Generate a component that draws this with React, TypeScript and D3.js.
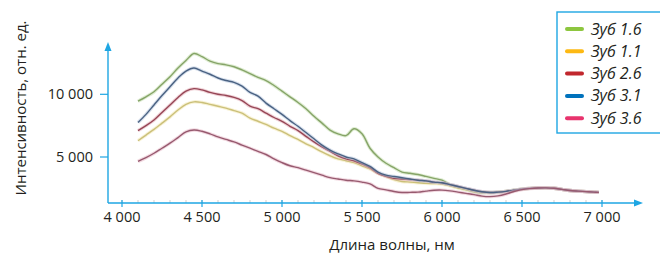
import React from 'react';
import * as d3 from 'd3';

// wavelength grid, nm
const waves = [
  4100, 4150, 4200, 4250, 4300, 4350, 4400, 4450, 4500, 4550,
  4600, 4650, 4700, 4750, 4800, 4850, 4900, 4950, 5000, 5050,
  5100, 5150, 5200, 5250, 5300, 5350, 5400, 5450, 5500, 5550,
  5600, 5650, 5700, 5750, 5800, 5850, 5900, 5950, 6000, 6050,
  6100, 6150, 6200, 6250, 6300, 6350, 6400, 6450, 6500, 6550,
  6600, 6650, 6700, 6750, 6800, 6850, 6900, 6950, 6980,
];

const tooth16 = [
  9450, 9800, 10200, 10800, 11400, 12100, 12700, 13250, 13000, 12650,
  12450, 12350, 12200, 11950, 11650, 11350, 11100, 10700, 10250, 9800,
  9350, 8850, 8250, 7700, 7150, 6850, 6700, 7250, 6850, 5700,
  5000, 4500, 4150, 3800, 3700, 3600, 3450, 3300, 3150, 2800,
  2550, 2400, 2230, 2150, 2170, 2200, 2260, 2350, 2440, 2500,
  2530, 2540, 2510, 2420, 2330, 2280, 2240, 2200, 2180,
];
const tooth11 = [
  6300, 6750, 7200, 7700, 8200, 8750, 9200, 9400, 9350, 9200,
  9050, 8900, 8700, 8500, 8100, 7850, 7600, 7300, 7050, 6700,
  6400, 6050, 5750, 5400, 5100, 4850, 4700, 4550, 4300, 4050,
  3700, 3450, 3200, 3050, 3000, 2950, 2900, 2880, 2850, 2700,
  2550, 2400, 2280, 2200, 2150, 2200, 2260, 2350, 2440, 2500,
  2530, 2540, 2510, 2420, 2330, 2280, 2240, 2200, 2180,
];
const tooth26 = [
  7100, 7500, 7950, 8550, 9150, 9750, 10250, 10450, 10350, 10150,
  10000, 9900, 9750, 9500, 9050, 8850, 8500, 8150, 7850, 7450,
  7100, 6650, 6200, 5800, 5450, 5100, 4850, 4700, 4450, 4150,
  3700, 3450, 3300, 3250, 3200, 3150, 3100, 3000, 2950, 2800,
  2650, 2500, 2350, 2230, 2170, 2200, 2260, 2350, 2440, 2500,
  2530, 2540, 2510, 2420, 2330, 2280, 2240, 2200, 2180,
];
const tooth31 = [
  7750, 8400, 9150, 9900, 10600, 11300, 11850, 12100, 11850, 11600,
  11300, 11100, 10950, 10650, 10150, 9850, 9300, 8850, 8400, 7900,
  7450, 6950, 6450, 5950, 5550, 5250, 5000, 4850, 4550, 4250,
  3800, 3550, 3450, 3350, 3250, 3150, 3100, 3000, 2950, 2800,
  2650, 2500, 2350, 2230, 2170, 2200, 2260, 2350, 2440, 2500,
  2530, 2540, 2510, 2420, 2330, 2280, 2240, 2200, 2180,
];
const tooth36 = [
  4650, 4950, 5300, 5700, 6100, 6550, 7000, 7150, 7050, 6850,
  6600, 6400, 6200, 5950, 5700, 5450, 5200, 4850, 4550, 4300,
  4150, 3950, 3750, 3550, 3350, 3250, 3150, 3100, 3000, 2850,
  2500, 2380, 2250, 2170, 2180, 2200, 2280, 2350, 2360, 2300,
  2200, 2100, 2000, 1880, 1840, 1900, 2050, 2250, 2400, 2480,
  2530, 2540, 2510, 2420, 2330, 2280, 2240, 2200, 2180,
];

const names = ['Зуб 1.6', 'Зуб 1.1', 'Зуб 2.6', 'Зуб 3.1', 'Зуб 3.6'];
const legendColors = ['#8dc63f', '#fdb913', '#c1272d', '#0072bc', '#e8336d'];
const lineColors = ['#86a468', '#cbc07a', '#964656', '#4a6282', '#975a6f'];
const haloColors = ['#c0dca8', '#f1e6ac', '#e2a8b2', '#aebfd9', '#e6b4c4'];

const xTicks = [4000, 4500, 5000, 5500, 6000, 6500, 7000];
const yTicks = [5000, 10000];

const axisColor = '#1ea6e3';
const font = '"Open Sans", sans-serif';

export default function App() {
  const x = d3.scaleLinear().domain([4000, 7000]).range([122, 602]);
  const y = d3.scaleLinear().domain([5000, 10000]).range([157, 94.3]);
  const axisY = 203;
  const axisX = 108;

  const series = [tooth16, tooth11, tooth26, tooth31, tooth36];

  const line = d3
    .line<number>()
    .x((d, i) => x(waves[i]))
    .y(d => y(d))
    .curve(d3.curveCatmullRom.alpha(0.5));

  const fmt = (v: number) => d3.format(',')(v).replace(/,/g, ' ');
  const minor = d3.range(4000, 7001, 100);

  return (
    <svg width={660} height={259} style={{ position: 'absolute', left: 0, top: 0, background: '#fff' }}>
      {/* minor ticks */}
      {minor.map(v => (
        <line key={'m' + v} x1={x(v)} x2={x(v)} y1={axisY - 3} y2={axisY} stroke="#cfcfcf" strokeWidth={1} />
      ))}

      {/* series */}
      {series.map((s, i) => (
        <g key={names[i]}>
          <path d={line(s) || ''} fill="none" stroke={haloColors[i]} strokeWidth={3.4} strokeOpacity={0.5} />
          <path d={line(s) || ''} fill="none" stroke={lineColors[i]} strokeWidth={1.4} />
        </g>
      ))}

      {/* axes */}
      <line x1={axisX} x2={638} y1={axisY} y2={axisY} stroke={axisColor} strokeWidth={1.4} />
      <path d={`M643,${axisY} L634,${axisY - 3.5} L634,${axisY + 3.5} Z`} fill={axisColor} />
      <line x1={axisX} x2={axisX} y1={48} y2={axisY} stroke={axisColor} strokeWidth={1.4} />
      <path d={`M${axisX},42 L${axisX - 3.5},51 L${axisX + 3.5},51 Z`} fill={axisColor} />

      {xTicks.map(v => (
        <g key={'x' + v}>
          <line x1={x(v)} x2={x(v)} y1={axisY - 3} y2={axisY + 4} stroke={axisColor} strokeWidth={1.2} />
          <text x={x(v)} y={axisY + 19} textAnchor="middle" fontFamily={font} fontSize={14.5} fill="#231f20">
            {fmt(v)}
          </text>
        </g>
      ))}
      {yTicks.map(v => (
        <g key={'y' + v}>
          <line x1={axisX - 8} x2={axisX} y1={y(v)} y2={y(v)} stroke={axisColor} strokeWidth={1.2} />
          <text x={axisX - 15} y={y(v) + 5} textAnchor="end" fontFamily={font} fontSize={14.5} fill="#231f20">
            {fmt(v)}
          </text>
        </g>
      ))}

      <text x={392} y={250} textAnchor="middle" fontFamily={font} fontSize={15} fill="#231f20">
        Длина волны, нм
      </text>
      <text
        transform="translate(26,108) rotate(-90)"
        textAnchor="middle"
        fontFamily={font}
        fontSize={15}
        fill="#231f20"
      >
        Интенсивность, отн. ед.
      </text>

      {/* legend */}
      <rect x={557} y={12} width={110} height={121} fill="#fff" stroke={axisColor} strokeWidth={1.4} />
      {names.map((n, i) => (
        <g key={'l' + n} transform={`translate(0,${29 + i * 22.3})`}>
          <line x1={567} x2={582} y1={0} y2={0} stroke={legendColors[i]} strokeWidth={4} strokeLinecap="round" />
          <text x={591} y={5.5} fontFamily={font} fontStyle="italic" fontSize={16} fill="#231f20">
            {n}
          </text>
        </g>
      ))}
    </svg>
  );
}
